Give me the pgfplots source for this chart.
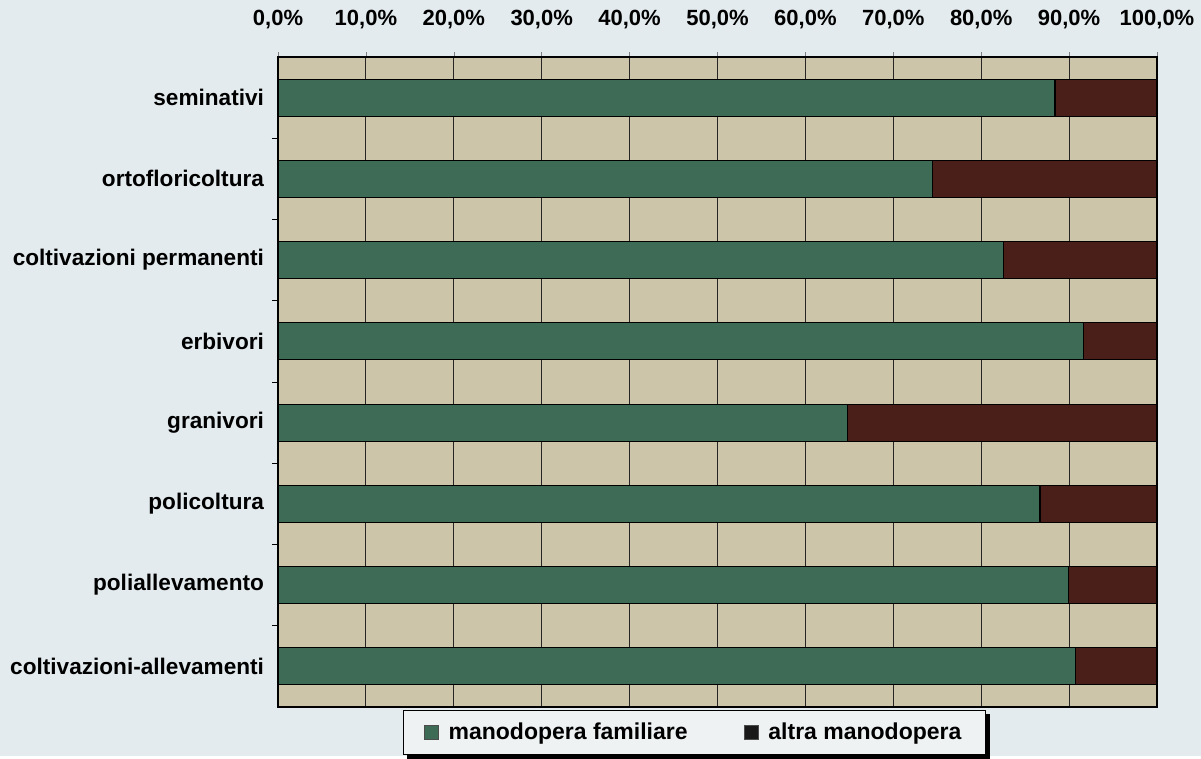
\documentclass[border=0pt]{standalone}
\usepackage{fontspec}
\setmainfont{Liberation Sans}
\usepackage{pgfplots}
\pgfplotsset{compat=1.18}
\definecolor{pagebg}{HTML}{E3EBEE}
\definecolor{plotbg}{HTML}{CCC5A9}
\definecolor{famgreen}{HTML}{3E6B55}
\definecolor{altred}{HTML}{4A1F1A}
\definecolor{legbg}{HTML}{EEF2F3}
\begin{document}
\begin{tikzpicture}
\fill[pagebg] (-139pt,-24.5pt) rectangle (461.5pt,353.5pt);
\begin{axis}[
  at={(0,0)}, anchor=south west,
  scale only axis, width=439.5pt, height=325pt,
  xbar stacked, bar width=18.5pt,
  xmin=0, xmax=100, ymin=-0.5, ymax=7.5, y dir=reverse,
  clip=false,
  axis background/.style={fill=plotbg},
  axis line style={black, line width=0.8pt},
  xtick={0,10,...,100},
  xticklabels={{0,0\%},{10,0\%},{20,0\%},{30,0\%},{40,0\%},{50,0\%},{60,0\%},{70,0\%},{80,0\%},{90,0\%},{100,0\%}},
  xtick pos=right, xticklabel pos=right,
  tick align=outside, major tick length=2.5pt,
  xmajorgrids, major grid style={black!85, line width=0.4pt},
  ytick={0,...,7},
  yticklabels={seminativi,ortofloricoltura,coltivazioni permanenti,erbivori,granivori,policoltura,poliallevamento,coltivazioni-allevamenti},
  ytick pos=left,
  ytick style={draw=none},
  tick label style={font=\bfseries\fontsize{11}{13}\selectfont, black},
  yticklabel style={font=\bfseries\fontsize{11.3}{13}\selectfont, xshift=-1pt},
  xticklabel style={yshift=8pt},
  legend columns=2,
  legend cell align=left,
  legend style={at={(0.474,0)}, anchor=north, yshift=-1.5pt,
    name=leg,
    draw=black, fill=legbg, line width=0.6pt,
    inner xsep=10pt, inner ysep=4pt,
    font=\bfseries\fontsize{11.5}{13}\selectfont,
    /tikz/every odd column/.append style={column sep=3pt},
    /tikz/every even column/.append style={column sep=26pt}},
  legend image code/.code={\draw[#1, draw=black!70, line width=0.4pt] (0pt,-3.5pt) rectangle (7pt,3.5pt);},
]
\addplot[fill=famgreen, draw=black, line width=0.6pt] coordinates {(88.4,0) (74.5,1) (82.5,2) (91.6,3) (64.8,4) (86.7,5) (89.9,6) (90.7,7)};
\addplot[fill=altred, draw=black, line width=0.6pt, legend image post style={fill=black!90}] coordinates {(11.6,0) (25.5,1) (17.5,2) (8.4,3) (35.2,4) (13.3,5) (10.1,6) (9.3,7)};
\legend{manodopera familiare, altra manodopera}
\pgfplotsinvokeforeach{0.5,1.5,2.5,3.5,4.5,5.5,6.5}{\draw[black, line width=0.5pt] ([xshift=-3pt]axis cs:0,#1) -- (axis cs:0,#1);}
\end{axis}
\fill[black] ([yshift=-2pt]leg.north east) rectangle ([xshift=2pt,yshift=-2pt]leg.south east);
\fill[black] ([xshift=2pt]leg.south west) rectangle ([xshift=2pt,yshift=-2pt]leg.south east);
\end{tikzpicture}
\end{document}
